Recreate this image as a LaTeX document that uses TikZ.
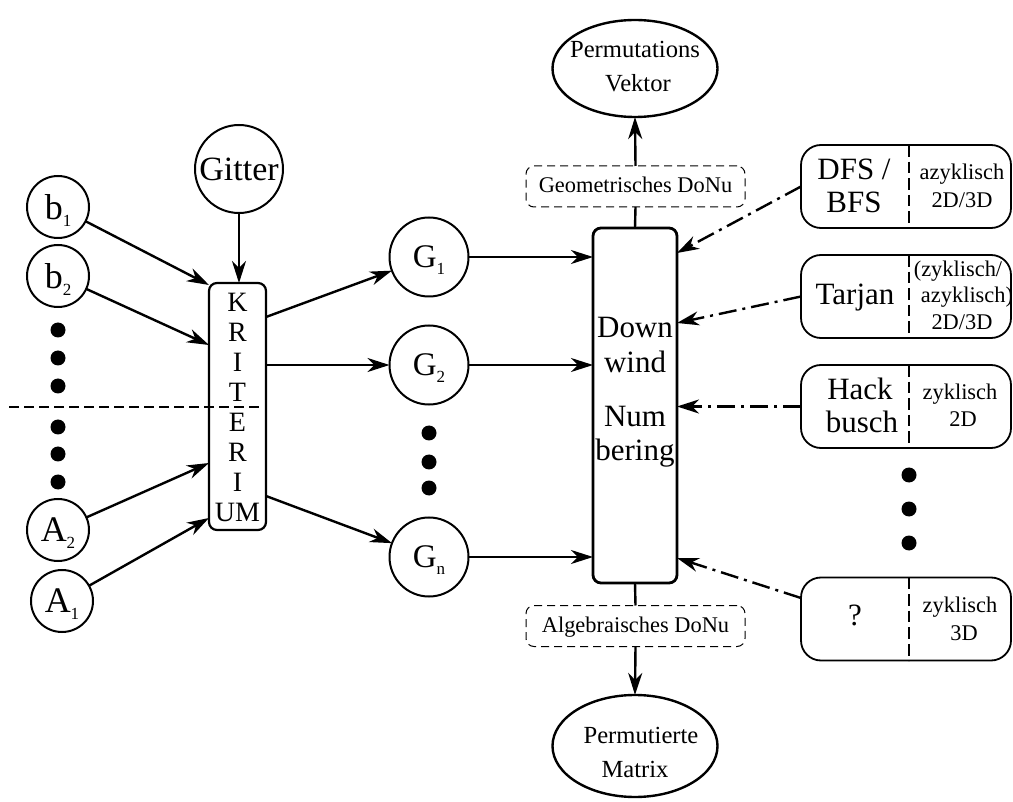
\documentclass[tikz,border=0pt]{standalone}
\usepackage{fontspec}
\setmainfont{Liberation Serif}
\usetikzlibrary{arrows.meta,shapes.geometric}

% lowered index digit that does not change the height of the main letter
\newcommand\lowsub[2][3.5pt]{\raisebox{-#1}[0pt][0pt]{\fontsize{8.5}{9}\selectfont #2}}

\begin{document}
\begin{tikzpicture}[x=0.5pt,y=-0.5pt,
  every node/.style={inner sep=0pt, outer sep=0pt},
  tip/.style={-{Stealth[length=11pt,width=7pt,inset=3.5pt]}},
  arr/.style={line width=1.2pt, tip},
  plain/.style={line width=1.2pt},
  dd/.style={line width=1.2pt, tip, dash pattern=on 9pt off 3pt on 1.5pt off 3pt},
  smallc/.style={circle, draw, line width=1pt, minimum size=31pt, font=\fontsize{18}{20}\selectfont},
  gc/.style={circle, draw, line width=1pt, minimum size=39.5pt, font=\fontsize{16.5}{18}\selectfont},
  ell/.style={ellipse, draw, line width=1.2pt, minimum width=82.5pt},
  dbox/.style={draw, dash pattern=on 4pt off 2.5pt, line width=0.5pt, rounded corners=4pt,
               minimum width=109.5pt, minimum height=20.5pt},
  kbox/.style={draw, line width=1.1pt, rounded corners=4pt, minimum width=28.5pt, minimum height=123.5pt},
  dwbox/.style={draw, line width=1.4pt, rounded corners=4pt, minimum width=42pt, minimum height=177.5pt},
  rbox/.style={draw, line width=0.9pt, rounded corners=10pt, minimum width=105pt, minimum height=41.5pt},
  divider/.style={line width=1.3pt, dash pattern=on 5.8pt off 2.5pt},
  cut/.style={line width=0.6pt, dash pattern=on 5pt off 2.5pt},
  dot/.style={circle, fill, minimum size=7.5pt},
  bigtxt/.style={anchor=base, font=\fontsize{15.5}{17}\selectfont},
  dwtxt/.style={anchor=base, font=\fontsize{15.5}{17}\selectfont},
  ktxt/.style={anchor=base, font=\fontsize{14}{16}\selectfont},
  midtxt/.style={anchor=base, font=\fontsize{12.3}{14}\selectfont},
  smalltxt/.style={anchor=base, font=\fontsize{11.2}{13}\selectfont}]

\useasboundingbox (0,0) rectangle (1013,802);

% ---------------- inputs ----------------
\node[smallc] (b1) at (58,207) {b\lowsub{1}};
\node[smallc] (b2) at (58,276) {b\lowsub{2}};
\node[smallc] (A2) at (58,530) {A\lowsub{2}};
\node[smallc] (A1) at (62,601) {A\lowsub{1}};
\foreach \y [count=\i] in {330,358,386,427,454,482}
  \node[dot] (ldot\i) at (58,\y) {};

\node[circle, draw, line width=1pt, minimum size=44pt, font=\fontsize{17}{19}\selectfont]
  (gitter) at (239,169) {Gitter};

% ---------------- criterion ----------------
\node[kbox] (krit) at (237.5,406.5) {};
\foreach \l [count=\i from 0] in {K,R,I,T,E,R,I,UM}
  \node[ktxt] (klet\i) at (237.5,{312+29.9*\i}) {\l};

\coordinate (cutL) at (9,407);
\coordinate (cutR) at (263,407);
\draw[cut] (cutL) -- (cutR);

% ---------------- graphs ----------------
\node[gc] (G1) at (429,257) {G\lowsub{1}};
\node[gc] (G2) at (429,365) {G\lowsub{2}};
\node[gc] (Gn) at (429,557) {G\lowsub{n}};
\foreach \y [count=\i] in {433,462,488}
  \node[dot] (mdot\i) at (429,\y) {};

% ---------------- downwind numbering ----------------
\node[dwbox] (dw) at (635,405.5) {};
\node[dwtxt] (dwa) at (635,338) {Down};
\node[dwtxt] (dwb) at (635,372) {wind};
\node[dwtxt] (dwc) at (635,427) {Num};
\node[dwtxt] (dwd) at (635,460) {bering};

\node[dbox] (geo) at (635.5,186.5) {};
\node[smalltxt] (geot) at (635.5,193) {Geometrisches DoNu};
\node[dbox] (alg) at (635.5,626) {};
\node[smalltxt] (algt) at (635.5,632) {Algebraisches DoNu};

\node[ell, minimum height=48.5pt] (pv) at (635,68.5) {};
\node[midtxt] (pv1) at (635,58) {Permutations};
\node[midtxt] (pv2) at (638,92) {Vektor};

\node[ell, minimum height=51pt] (pm) at (635,746) {};
\node[midtxt] (pm1) at (641,743) {Permutierte};
\node[midtxt] (pm2) at (635,777) {Matrix};

% ---------------- algorithms ----------------
\node[rbox] (dfs) at (906,186.5) {};
\node[rbox] (tarjan) at (906,296.5) {};
\node[rbox] (hack) at (906,406.5) {};
\node[rbox] (unk) at (906,619) {};
\foreach \b in {dfs,tarjan,hack,unk}
  \draw[divider] (\b.north -| 909,0) -- (\b.south -| 909,0);

\node[bigtxt] (dfs1) at (854,180) {DFS /};
\node[bigtxt] (dfs2) at (854,213) {BFS};
\node[smalltxt] (dfs3) at (962,180) {azyklisch};
\node[smalltxt] (dfs4) at (962,208) {2D/3D};

\node[bigtxt] (tar1) at (855,305) {Tarjan};
\node[smalltxt] (tar2) at (958,277) {(zyklisch/};
\node[smalltxt] (tar3) at (967,303) {azyklisch)};
\node[smalltxt] (tar4) at (962,330) {2D/3D};

\node[bigtxt] (hack1) at (860,400) {Hack};
\node[bigtxt] (hack2) at (862,433) {busch};
\node[smalltxt] (hack3) at (960,400) {zyklisch};
\node[smalltxt] (hack4) at (963,427) {2D};

\node[bigtxt] (unk1) at (855,625) {?};
\node[smalltxt] (unk2) at (960,612) {zyklisch};
\node[smalltxt] (unk3) at (964,640) {3D};

\foreach \y [count=\i] in {475,509,543}
  \node[dot] (rdot\i) at (909,\y) {};

% ---------------- connectors ----------------
\draw[arr] (b1) -- (krit.west |- 0,285);
\draw[arr] (b2) -- (krit.west |- 0,345);
\draw[arr] (A2) -- (krit.west |- 0,463);
\draw[arr] (A1) -- (krit.west |- 0,518);
\draw[arr] (gitter.south) -- (gitter.south |- krit.north);

\draw[arr] (krit.east |- 0,317) -- (G1);
\draw[arr] (krit.east |- 0,365) -- (G2);
\draw[arr] (krit.east |- 0,496) -- (Gn);

\draw[arr] (G1.east) -- (dw.west |- G1.east);
\draw[arr] (G2.east) -- (dw.west |- G2.east);
\draw[arr] (Gn.east) -- (dw.west |- Gn.east);

\draw[plain] (dw.north) -- (geo.south);
\draw[arr] (geo.north) -- (pv.south);
\draw[plain] (dw.south) -- (alg.north);
\draw[arr] (alg.south) -- (pm.north);

\draw[dd] (dfs.west) -- (dw.east |- 0,253);
\draw[dd] (tarjan.west) -- (dw.east |- 0,323);
\draw[dd] (hack.west) -- (dw.east |- 0,406.5);
\draw[dd] (unk.west |- 0,598) -- (dw.east |- 0,558);
\end{tikzpicture}
\end{document}
